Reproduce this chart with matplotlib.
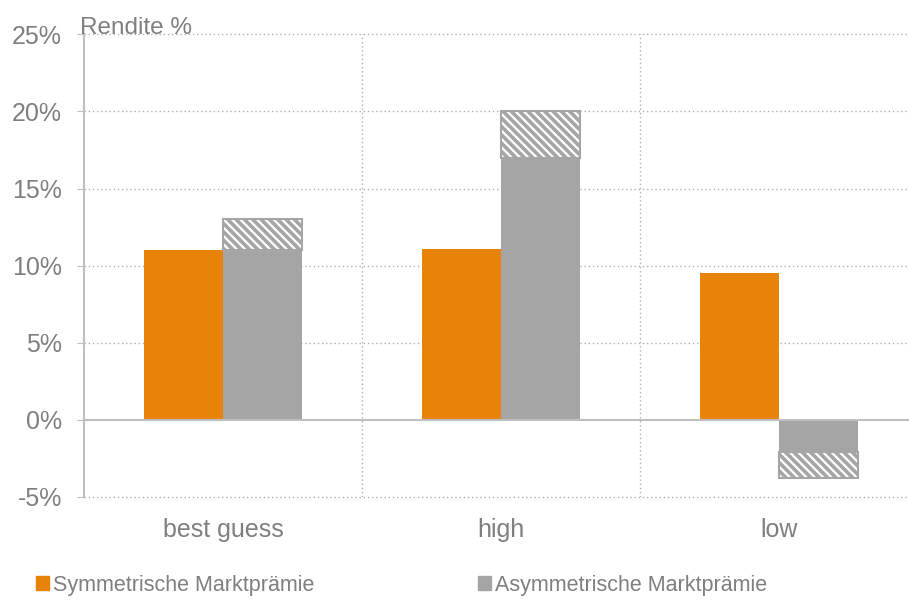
import matplotlib.pyplot as plt
import numpy as np
from matplotlib.patches import Patch

# data (in %)
categories = ["best guess", "high", "low"]
sym_values = [11.0, 11.1, 9.5]
asym_base = [11.0, 17.0, -2.1]
asym_extra = [2.0, 3.0, -1.65]
yticks = [-5, 0, 5, 10, 15, 20, 25]

orange = "#E8830A"
grey = "#A5A5A5"
txt = "#7F7F7F"

plt.rcParams['font.family'] = ['Liberation Sans', 'DejaVu Sans']
plt.rcParams['hatch.linewidth'] = 2.6

fig = plt.figure(figsize=(9.09, 6.07), dpi=100)
ax = fig.add_axes([84/909, 110/607, 834/909, 462.7/607])

x = np.arange(len(categories))
w = 0.285
ax.bar(x - w/2, sym_values, w, color=orange, zorder=3)
ax.bar(x + w/2, asym_base, w, color=grey, zorder=3)
ax.bar(x + w/2, asym_extra, w, bottom=asym_base, facecolor="white",
       edgecolor=grey, hatch="\\\\\\\\", linewidth=1.5, zorder=3)

ax.set_xlim(-0.5, 2.5)
ax.set_ylim(-5, 25)
ax.set_yticks(yticks)
ax.set_yticklabels([f"{t}%" for t in yticks])
ax.set_xticks(x)
ax.set_xticklabels(categories)

# grid
for t in yticks:
    if t != 0:
        ax.axhline(t, color="#B0B0B0", linestyle=(0, (1, 2)), linewidth=1,
                   zorder=1, clip_on=False)
for b in [0.5, 1.5]:
    ax.axvline(b, color="#B0B0B0", linestyle=(0, (1, 2)), linewidth=1, zorder=1)
ax.axhline(0, color="#BFBFBF", linewidth=1.5, zorder=4)

for s in ["top", "right", "bottom"]:
    ax.spines[s].set_visible(False)
ax.spines["left"].set_color("#BFBFBF")
ax.spines["left"].set_linewidth(1.5)
ax.tick_params(axis="y", colors="#BFBFBF", labelcolor=txt, labelsize=18, length=5, pad=11)
ax.tick_params(axis="x", length=0, labelcolor=txt, labelsize=18, pad=15)

ax.text(-0.005, 1.0, "Rendite %", transform=ax.transAxes, color=txt,
        fontsize=17.5, va="baseline", ha="left")

handles = [Patch(color=orange, label="Symmetrische Marktprämie"),
           Patch(color=grey, label="Asymmetrische Marktprämie")]
fig.legend(handles=handles, loc="lower left", bbox_to_anchor=(0.018, -0.013), ncol=2,
           frameon=False, fontsize=15.5, labelcolor=txt, handlelength=0.6,
           handleheight=0.6, handletextpad=0.2, columnspacing=7.6)

fig.savefig("out.png", dpi=100)
